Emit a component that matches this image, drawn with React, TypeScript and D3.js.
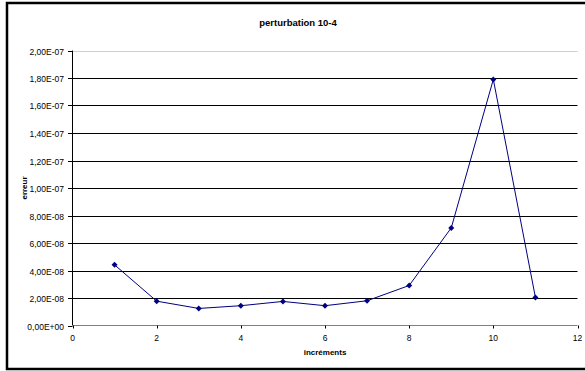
import React from "react";
import * as d3 from "d3";

const increments = [1, 2, 3, 4, 5, 6, 7, 8, 9, 10, 11];
const erreur = [4.41e-8, 1.77e-8, 1.24e-8, 1.44e-8, 1.75e-8, 1.44e-8, 1.8e-8, 2.91e-8, 7.1e-8, 1.79e-7, 2.04e-8];
const xTicks = [0, 2, 4, 6, 8, 10, 12];
const yTicks = [0, 2e-8, 4e-8, 6e-8, 8e-8, 1e-7, 1.2e-7, 1.4e-7, 1.6e-7, 1.8e-7, 2e-7];
const yTickLabels = ["0,00E+00", "2,00E-08", "4,00E-08", "6,00E-08", "8,00E-08", "1,00E-07", "1,20E-07", "1,40E-07", "1,60E-07", "1,80E-07", "2,00E-07"];
const title = "perturbation 10-4";
const xLabel = "incréments";
const yLabel = "erreur";

export default function App() {
  const W = 585, H = 371;
  const x = d3.scaleLinear().domain([0, 12]).range([72.5, 577.5]);
  const y = d3.scaleLinear().domain([0, 2e-7]).range([325.5, 50.5]);
  const line = d3.line<number>().x((_, i) => x(increments[i])).y((d) => y(d));
  const font = "'Liberation Sans', Arial, sans-serif";
  return (
    <svg width={W} height={H} style={{ position: "absolute", left: 0, top: 0 }}>
      <rect x={0} y={0} width={W} height={H} fill="#fff" />
      <rect x={7} y={3} width={W + 10} height={366} fill="none" stroke="#000" strokeWidth={2.5} />
      <text x={298} y={25.5} textAnchor="middle" fontFamily={font} fontWeight="bold" fontSize={9.5}>{title}</text>
      {yTicks.map((t, i) => (
        <g key={i}>
          {i > 0 && (
            <line x1={x(0)} x2={x(12)} y1={Math.round(y(t)) + 0.5} y2={Math.round(y(t)) + 0.5}
              stroke={i === yTicks.length - 1 ? "#cfcfcf" : "#000"} strokeWidth={1} />
          )}
          <line x1={68} x2={x(0)} y1={Math.round(y(t)) + 0.5} y2={Math.round(y(t)) + 0.5} stroke="#000" />
          <text x={64} y={Math.round(y(t)) + 3.5} textAnchor="end" fontFamily={font} fontSize={8.5} fill="#000">{yTickLabels[i]}</text>
        </g>
      ))}
      <line x1={x(0)} x2={x(0)} y1={y(2e-7)} y2={y(0)} stroke="#000" />
      <line x1={x(0)} x2={x(12)} y1={y(0)} y2={y(0)} stroke="#808080" />
      {xTicks.map((t) => (
        <g key={t}>
          <line x1={Math.round(x(t)) + 0.5} x2={Math.round(x(t)) + 0.5} y1={y(0)} y2={y(0) + 3} stroke="#000" />
          <text x={x(t)} y={341} textAnchor="middle" fontFamily={font} fontSize={8.5}>{t}</text>
        </g>
      ))}
      <text x={325} y={355} textAnchor="middle" fontFamily={font} fontWeight="bold" fontSize={8}>{xLabel}</text>
      <text transform="translate(27,188) rotate(-90)" textAnchor="middle" fontFamily={font} fontWeight="bold" fontSize={8}>{yLabel}</text>
      <path d={line(erreur) || ""} fill="none" stroke="#000080" strokeWidth={1} />
      {erreur.map((v, i) => {
        const cx = x(increments[i]), cy = y(v);
        return <path key={i} d={`M${cx},${cy - 3}L${cx + 3},${cy}L${cx},${cy + 3}L${cx - 3},${cy}Z`} fill="#000080" />;
      })}
    </svg>
  );
}
